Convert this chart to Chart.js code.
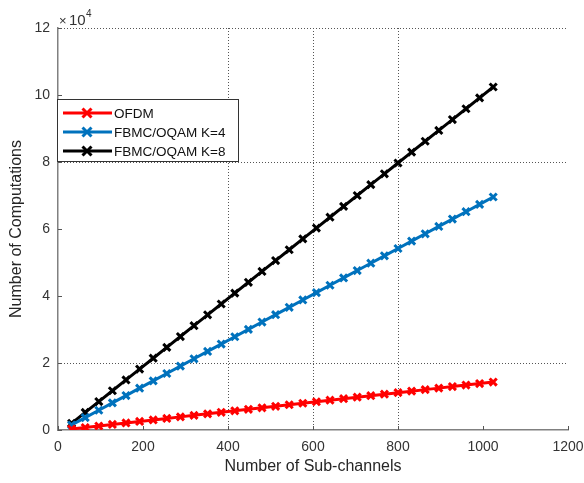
<!DOCTYPE html>
<html>
<head>
<meta charset="utf-8">
<script src="https://cdn.jsdelivr.net/npm/chart.js@4.4.1/dist/chart.umd.min.js"></script>
<style>
html,body{margin:0;padding:0;background:#fff;}
#wrap{width:584px;height:483px;position:relative;}
</style>
</head>
<body>
<div id="wrap"><canvas id="c" width="584" height="483"></canvas></div>
<script>
// ---- data ----
const subChannels = [32,64,96,128,160,192,224,256,288,320,352,384,416,448,480,512,544,576,608,640,672,704,736,768,800,832,864,896,928,960,992,1024];
const ofdm = [300,750,1200,1660,2110,2560,3010,3460,3920,4370,4820,5270,5720,6180,6630,7080,7530,7980,8440,8890,9340,9790,10240,10700,11150,11600,12050,12500,12960,13410,13860,14310];
const fbmcK4 = [1500,3700,5900,8090,10280,12480,14670,16870,19060,21260,23450,25650,27840,30040,32230,34430,36620,38820,41010,43210,45400,47600,49790,51990,54180,56380,58570,60770,62960,65160,67350,69550];
const fbmcK8 = [2000,5240,8480,11710,14950,18190,21430,24670,27900,31140,34380,37620,40860,44090,47330,50570,53810,57050,60280,63520,66760,70000,73240,76470,79710,82950,86190,89430,92660,95900,99140,102380];
const seriesLabels = ['OFDM','FBMC/OQAM K=4','FBMC/OQAM K=8'];
const xTicks = [0,200,400,600,800,1000,1200];
const yTicks = [0,2,4,6,8,10,12]; // x 10^4
const gridX = [400,600,800];
const gridY = [2,8,12];
const xTitle = 'Number of Sub-channels';
const yTitle = 'Number of Computations';

const colors = ['#ff0000','#0072bd','#000000'];
const FONT = '"Liberation Sans", Arial, sans-serif';

function mk(label, vals, color){
  return {
    label: label,
    data: subChannels.map((x,i)=>({x:x,y:vals[i]})),
    borderColor: color,
    backgroundColor: color,
    borderWidth: 3,
    pointStyle: 'crossRot',
    pointRadius: 5,
    pointBorderWidth: 3,
    pointBorderColor: color,
    pointHoverRadius: 5,
    tension: 0,
    fill: false
  };
}

const decor = {
  id: 'decor',
  beforeDatasetsDraw(chart){
    const {ctx, chartArea:a, scales:{x,y}} = chart;
    ctx.save();
    ctx.strokeStyle = '#555';
    ctx.lineWidth = 1;
    ctx.setLineDash([1,2]);
    gridX.forEach(v=>{
      const px = Math.round(x.getPixelForValue(v))+0.5;
      ctx.beginPath(); ctx.moveTo(px,a.top); ctx.lineTo(px,a.bottom); ctx.stroke();
    });
    gridY.forEach(v=>{
      const py = Math.round(y.getPixelForValue(v*10000))+0.5;
      ctx.beginPath(); ctx.moveTo(a.left,py); ctx.lineTo(a.right,py); ctx.stroke();
    });
    ctx.setLineDash([]);
    ctx.strokeStyle = '#555';
    xTicks.forEach(v=>{
      const px = Math.round(x.getPixelForValue(v))+0.5;
      ctx.beginPath(); ctx.moveTo(px,a.bottom); ctx.lineTo(px,a.bottom-4); ctx.stroke();
    });
    yTicks.forEach(v=>{
      const py = Math.round(y.getPixelForValue(v*10000))+0.5;
      ctx.beginPath(); ctx.moveTo(a.left,py); ctx.lineTo(a.left+4,py); ctx.stroke();
    });
    ctx.restore();
  },
  afterDatasetsDraw(chart){
    const {ctx} = chart;
    ctx.save();
    // legend box
    const bx=57.5, by=99.5, bw=181, bh=62;
    ctx.fillStyle='#fff';
    ctx.fillRect(bx,by,bw,bh);
    ctx.strokeStyle='#333';
    ctx.lineWidth=1;
    ctx.strokeRect(bx,by,bw,bh);
    const rows=[113,132,151];
    chart.data.datasets.forEach((ds,i)=>{
      const yy=rows[i];
      ctx.strokeStyle=ds.borderColor;
      ctx.lineWidth=3;
      ctx.beginPath(); ctx.moveTo(63,yy); ctx.lineTo(112,yy); ctx.stroke();
      const r=4.5;
      ctx.beginPath();
      ctx.moveTo(87-r,yy-r); ctx.lineTo(87+r,yy+r);
      ctx.moveTo(87-r,yy+r); ctx.lineTo(87+r,yy-r);
      ctx.stroke();
      ctx.fillStyle='#111';
      ctx.font='13.5px '+FONT;
      ctx.textBaseline='middle';
      ctx.textAlign='left';
      ctx.fillText(ds.label,114,yy+1);
    });
    // exponent label
    ctx.fillStyle='#333';
    ctx.textBaseline='alphabetic';
    ctx.font='13px '+FONT;
    ctx.fillText('\u00d7',59,25);
    ctx.font='15px '+FONT;
    ctx.fillText('10',69,25);
    ctx.font='10px '+FONT;
    ctx.fillText('4',86,17);
    ctx.restore();
  }
};

new Chart(document.getElementById('c'), {
  type: 'line',
  data: {
    datasets: [mk(seriesLabels[0],ofdm,colors[0]), mk(seriesLabels[1],fbmcK4,colors[1]), mk(seriesLabels[2],fbmcK8,colors[2])]
  },
  options: {
    responsive: false,
    animation: false,
    layout: {padding: {top: 28, right: 16, left: 0, bottom: 0}},
    plugins: {legend: {display: false}, tooltip: {enabled: false}},
    scales: {
      x: {
        type: 'linear', min: 0, max: 1200,
        afterBuildTicks(s){ s.ticks = xTicks.map(v=>({value:v})); },
        afterFit(s){ s.height = 53; s.paddingLeft = 0; s.paddingRight = 0; },
        ticks: {font:{family:FONT,size:14}, color:'#333', padding:9, maxRotation:0, callback:v=>String(v)},
        grid: {display:false, drawTicks:false},
        border: {display:true, color:'#808080', width:1.5},
        title: {display:true, text:xTitle, font:{family:FONT,size:16}, color:'#262626', padding:{top:0,bottom:7}}
      },
      y: {
        type: 'linear', min: 0, max: 120000,
        afterBuildTicks(s){ s.ticks = yTicks.map(v=>({value:v*10000})); },
        afterFit(s){ s.width = 58; s.paddingTop = 0; s.paddingBottom = 0; },
        ticks: {font:{family:FONT,size:14}, color:'#333', padding:8, callback:v=>String(v/10000)},
        grid: {display:false, drawTicks:false},
        border: {display:true, color:'#808080', width:1.5},
        title: {display:true, text:yTitle, font:{family:FONT,size:16}, color:'#262626', padding:{top:7,bottom:0}}
      }
    }
  },
  plugins: [decor]
});
</script>
</body>
</html>
